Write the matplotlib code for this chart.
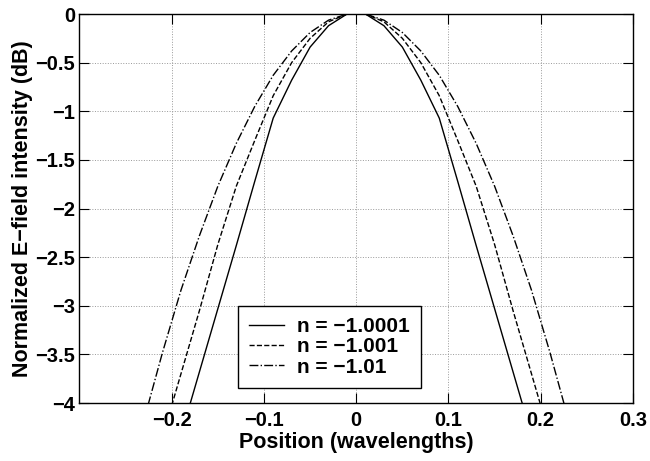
import numpy as np
import matplotlib
matplotlib.use("Agg")
import matplotlib.pyplot as plt

# sample positions (wavelengths)
position = [-0.25, -0.23, -0.21, -0.19, -0.17, -0.15, -0.13, -0.11, -0.09,
            -0.07, -0.05, -0.03, -0.01, 0.01, 0.03, 0.05, 0.07, 0.09,
            0.11, 0.13, 0.15, 0.17, 0.19, 0.21, 0.23, 0.25]

# normalized intensity (dB)
n_10001 = [-6.4, -5.7, -5.0, -4.33, -3.68, -3.03, -2.38, -1.72, -1.07,
           -0.68, -0.34, -0.12, 0.0, 0.0, -0.12, -0.34, -0.68, -1.07,
           -1.72, -2.38, -3.03, -3.68, -4.33, -5.0, -5.7, -6.4]
n_1001 = [-5.7, -5.0, -4.35, -3.70, -3.05, -2.37, -1.77, -1.30, -0.84,
          -0.50, -0.25, -0.08, 0.0, 0.0, -0.08, -0.25, -0.50, -0.84,
          -1.30, -1.77, -2.37, -3.05, -3.70, -4.35, -5.0, -5.7]
n_101 = [-4.9, -4.17, -3.48, -2.84, -2.28, -1.77, -1.33, -0.95, -0.63,
         -0.38, -0.19, -0.063, 0.0, 0.0, -0.063, -0.19, -0.38, -0.63,
         -0.95, -1.33, -1.77, -2.28, -2.84, -3.48, -4.17, -4.9]

labels = ["n = \u22121.0001", "n = \u22121.001", "n = \u22121.01"]
x_ticks = [-0.2, -0.1, 0, 0.1, 0.2, 0.3]
x_tick_labels = ["\u22120.2", "\u22120.1", "0", "0.1", "0.2", "0.3"]
y_ticks = [0, -0.5, -1, -1.5, -2, -2.5, -3, -3.5, -4]
y_tick_labels = ["0", "\u22120.5", "\u22121", "\u22121.5", "\u22122", "\u22122.5",
                 "\u22123", "\u22123.5", "\u22124"]

plt.rcParams['font.family'] = ['Liberation Sans', 'DejaVu Sans']
plt.rcParams['font.weight'] = 'bold'
plt.rcParams['font.size'] = 14.5

fig = plt.figure(figsize=(6.5, 4.61), dpi=100)
ax = fig.add_axes([0.1223, 0.1258, 0.8515, 0.8438])

ax.plot(position, n_10001, '-', color='k', lw=1.0, label=labels[0])
ax.plot(position, n_1001, '--', color='k', lw=1.0, label=labels[1])
ax.plot(position, n_101, '-.', color='k', lw=1.0, label=labels[2])

ax.set_xlim(-0.3, 0.3)
ax.set_ylim(-4, 0)
ax.set_xticks(x_ticks)
ax.set_xticklabels(x_tick_labels, fontweight='bold')
ax.set_yticks(y_ticks)
ax.set_yticklabels(y_tick_labels, fontweight='bold')
ax.tick_params(direction='in', length=7, width=0.8, top=True, right=True)
ax.tick_params(axis='x', pad=6)
ax.tick_params(axis='y', pad=3)
ax.grid(True, linestyle=':', color='#999999', lw=0.7)
for s in ax.spines.values():
    s.set_linewidth(1.0)

ax.set_xlabel("Position (wavelengths)", fontweight='bold', fontsize=15.5, labelpad=1)
ax.set_ylabel("Normalized E\u2212field intensity (dB)", fontweight='bold',
              fontsize=15.5, labelpad=2)

leg = ax.legend(loc='lower left', bbox_to_anchor=(0.286, 0.0386), borderaxespad=0,
                fontsize=15, handlelength=1.65, handletextpad=0.63,
                labelspacing=0.05, fancybox=False, edgecolor='k',
                framealpha=1, borderpad=0.55)
leg.get_frame().set_linewidth(1.0)

fig.savefig("out.png", dpi=100)
